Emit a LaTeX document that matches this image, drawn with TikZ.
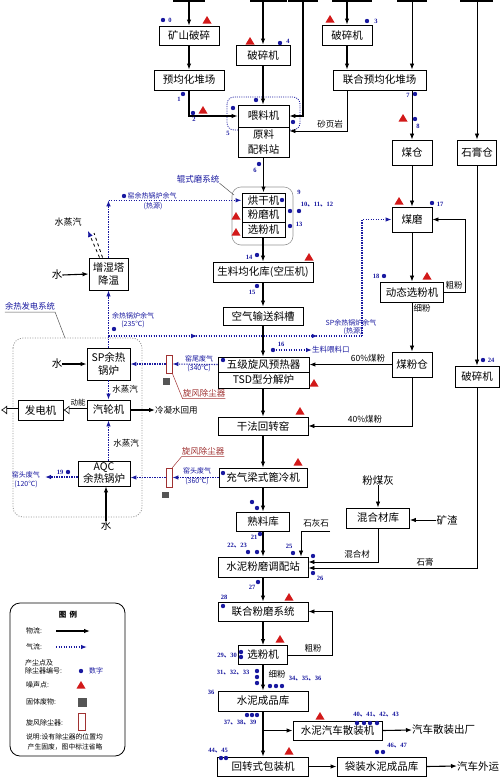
\documentclass[tikz,border=0pt]{standalone}
\usepackage{fontspec}
\setmainfont{Liberation Serif}
\newfontfamily\cjk{Noto Sans CJK SC}
\usetikzlibrary{arrows.meta,calc}
\definecolor{fblue}{RGB}{25,25,160}
\definecolor{fred}{RGB}{210,25,25}
\definecolor{fbrown}{RGB}{160,50,50}
\definecolor{fgray}{RGB}{85,85,85}
\definecolor{ggray}{RGB}{150,150,150}
\newcommand\dn{{\cjk 、}}
\tikzset{
 box/.style={draw, line width=0.9pt, fill=white, inner sep=0pt, align=center, font=\cjk\fontsize{10.5}{12.5}\selectfont},
 sz/.style 2 args={minimum width=#1, minimum height=#2},
 ahead/.style={-{Latex[length=6pt,width=4.5pt]}},
 flow/.style={line width=1.1pt, ahead},
 tflow/.style={line width=0.8pt, ahead},
 gasl/.style={fblue, line width=1.1pt, dash pattern=on 1.2pt off 1.3pt},
 gas/.style={gasl, ahead},
 hollow/.style={double=white, double distance=3pt, line width=0.6pt, -{Latex[open,length=6pt,width=9pt]}},
 lab/.style={inner sep=0pt, align=center, font=\cjk\fontsize{8.5}{9}\selectfont},
 big/.style={inner sep=0pt, font=\cjk\fontsize{10.5}{12}\selectfont},
 blab/.style={inner sep=0pt, text=fblue, align=center, font=\cjk\fontsize{7}{8}\selectfont},
 rlab/.style={inner sep=0pt, text=fbrown, font=\cjk\fontsize{8.5}{9}\selectfont},
 num/.style={inner sep=0pt, text=fblue, font=\rmfamily\bfseries\fontsize{6.5}{7}\selectfont},
 lgd/.style={inner sep=0pt, align=left, font=\cjk\fontsize{7}{8.5}\selectfont},
 coll/.style={draw=fbrown, line width=0.7pt, fill=white, inner sep=0pt, minimum width=6, minimum height=18},
}
\begin{document}
\begin{tikzpicture}[x=1pt,y=-1pt]
\useasboundingbox (0,0) rectangle (500,777);
\fill[white] (0,0) rectangle (500,777);

% group outlines
\draw[fblue, line width=0.8pt, dash pattern=on 1pt off 1.2pt, rounded corners=7pt] (227,97) rectangle (300,130);
\draw[ggray, line width=0.6pt, rounded corners=9pt] (232,187) rectangle (293,245);
\draw[ggray, line width=0.8pt, dash pattern=on 1pt off 1.5pt, rounded corners=10pt] (13,338) rectangle (142,517);
\draw[line width=0.8pt, rounded corners=10pt] (10,603) rectangle (125,756);

% cut-off boxes at the top
\foreach \a/\b in {173/205,250/287,288/318,332/372,397/427,460/493} \draw[line width=1.2pt] (\a,1) -- (\b,1);
\coordinate (t1) at (189,1);
\coordinate (t2) at (263,1);
\coordinate (t3) at (303,1);
\coordinate (t4) at (347,1);
\coordinate (t5) at (412,1);
\coordinate (t6) at (477,1);

% boxes
\node[box, sz={60}{19}] (ks) at (189,35.5) {矿山破碎};
\node[box, sz={70}{20}] (yj) at (189,80) {预均化堆场};
\node[box, sz={54}{20}] (ps4) at (263,55) {破碎机};
\node[box, sz={50}{20}] (ps3) at (347,35) {破碎机};
\node[box, sz={93}{20}] (lh) at (379.5,80) {联合预均化堆场};
\node[box, sz={51}{22}] (wl) at (263.5,116) {喂料机};
\node[box, sz={51}{30}, font=\cjk\fontsize{10.5}{14}\selectfont] (pl) at (263.5,142) {原料\\配料站};
\node[box, sz={40}{25}] (mc) at (412,152.5) {煤仓};
\node[box, sz={39}{25}] (sg) at (477,152.5) {石膏仓};
\node[box, sz={43}{14.7}] (hg) at (263.5,200.3) {烘干机};
\node[box, sz={43}{14.7}] (fm) at (263.5,215) {粉磨机};
\node[box, sz={43}{14.7}] (xf) at (263.5,229.7) {选粉机};
\node[box, sz={40}{25}] (mm) at (412,219.5) {煤磨};
\node[box, sz={39}{32}] (zs) at (108.5,274) {增湿塔\\降温};
\node[box, sz={100}{20}] (sl) at (263,272) {生料均化库(空压机)};
\node[box, sz={63}{20}] (dt) at (412,292) {动态选粉机};
\node[box, sz={80}{18}] (kq) at (263,316) {空气输送斜槽};
\node[box, sz={43}{32}] (sp) at (108.5,364) {SP余热\\锅炉};
\node[box, sz={91}{15}] (wj) at (263.5,364.5) {五级旋风预热器};
\node[box, sz={91}{16}] (tsd) at (263.5,380) {TSD型分解炉};
\node[box, sz={40}{25}] (mf) at (412,364.5) {煤粉仓};
\node[box, sz={44}{21}] (ps24) at (477,376.5) {破碎机};
\node[box, sz={45}{20}] (fd) at (40.5,410) {发电机};
\node[box, sz={43}{20}] (ql) at (108.5,410) {汽轮机};
\node[box, sz={90}{18}] (gf) at (263,426) {干法回转窑};
\node[box, sz={52}{25}, font=\cjk\fontsize{10.5}{12}\selectfont] (aqc) at (104,473.5) {AQC\\余热锅炉};
\node[box, sz={88}{19}] (bl) at (263,477.5) {充气梁式篦冷机};
\node[box, sz={53}{19}] (sl2) at (263,521.5) {熟料库};
\node[box, sz={63}{20}] (hh) at (378,518) {混合材库};
\node[box, sz={90}{20}] (tp) at (263,567) {水泥粉磨调配站};
\node[box, sz={90}{19}] (lf) at (263,611.5) {联合粉磨系统};
\node[box, sz={49}{19}] (xf2) at (263,655) {选粉机};
\node[box, sz={90}{20}] (cp) at (263,701) {水泥成品库};
\node[box, sz={89}{19}] (sz) at (337.5,730.5) {水泥汽车散装机};
\node[box, sz={91}{19}] (hz) at (263,766.5) {回转式包装机};
\node[box, sz={89}{19}] (dz) at (381.5,766.5) {袋装水泥成品库};

% collectors
\node[coll] (c1) at (169,364) {};
\node[coll, minimum height=19] (c2) at (169,477.5) {};
\fill[fgray] (163,378) rectangle (170,384.5);
\fill[fgray] (162,491.5) rectangle (168.5,497.5);

% free text
\node[big] (fmh) at (378,480) {粉煤灰};
\node[big] (kz) at (447,520) {矿渣};
\node[big, anchor=west] (qcss) at (412,730) {汽车散装出厂};
\node[big, anchor=west] (qcwy) at (457,766) {汽车外运};
\node[lab] (syy) at (330,124) {砂页岩};
\node[lab] (cf1l) at (454,285) {粗粉};
\node[lab] (xf1l) at (422,308) {细粉};
\node[lab] (m60) at (368,358) {60\%煤粉};
\node[lab] (m40) at (365,419) {40\%煤粉};
\node[lab] (shs) at (316,523) {石灰石};
\node[lab] (hhc) at (357,554) {混合材};
\node[lab] (sgl) at (425,562) {石膏};
\node[lab] (cf2l) at (313,648) {粗粉};
\node[lab] (xf3l) at (277,674) {细粉};
\node[lab, font=\cjk\fontsize{9}{10}\selectfont] (zq1) at (68,222) {水蒸汽};
\node[lab] (zq2) at (125,389) {水蒸汽};
\node[lab] (zq3) at (126,443) {水蒸汽};
\node[lab, font=\cjk\fontsize{7.5}{8}\selectfont] (dn) at (78,403) {动能};
\node[lab, anchor=west] (lns) at (155,410) {冷凝水回用};
\node[big] (w1) at (57,275) {水};
\node[big] (w2) at (57,364) {水};
\node[big] (w3) at (106,526) {水};

% blue labels
\node[blab, font=\cjk\fontsize{8.5}{9}\selectfont] (rg) at (198,179) {辊式磨系统};
\node[blab, font=\cjk\fontsize{8.3}{9}\selectfont] (yrfd) at (30,306) {余热发电系统};
\node[blab] (yq1) at (152,196) {窑余热锅炉余气};
\node[blab] (yq1b) at (153,206) {(热源)};
\node[blab] (yq2) at (133,316) {余热锅炉余气};
\node[blab] (yq2b) at (133,324) {(235℃)};
\node[blab] (yq3) at (351,323) {SP余热锅炉余气};
\node[blab] (yq3b) at (353,331) {(热源)};
\node[blab] (yw) at (199,359) {窑尾废气};
\node[blab] (ywb) at (199,368) {(340℃)};
\node[blab] (yt) at (197,471) {窑头废气};
\node[blab] (ytb) at (197,481) {(360℃)};
\node[blab] (yt2) at (26,475) {窑头废气};
\node[blab] (yt2b) at (26,484) {(120℃)};
\node[blab, font=\cjk\fontsize{7.5}{8}\selectfont, anchor=west] (sllk) at (312,350) {生料喂料口};
\node[rlab] (xfl1) at (204,393) {旋风除尘器};
\node[rlab] (xfl2) at (203,451) {旋风除尘器};

% callouts
\draw[fgray, line width=0.5pt] (rg.south east) -- (234,195);
\draw[fgray, line width=0.5pt] ([yshift=-2pt]yrfd.south west) -- ([yshift=-2pt]yrfd.south east) -- (65,338);
\draw[fbrown, line width=0.5pt] (c1.south east) -- ([yshift=-1.5pt]xfl1.south west) -- ([yshift=-1.5pt]xfl1.south east);
\draw[fbrown, line width=0.5pt] (c2.north east) -- ([yshift=-1.5pt]xfl2.south west) -- ([yshift=-1.5pt]xfl2.south east);

% material flow
\draw[flow] (t1) -- (ks.north);
\draw[flow] (ks.south) -- (yj.north);
\draw[flow] (yj.south) |- (wl.west);
\draw[flow] (t2) -- (ps4.north);
\draw[flow] (ps4.south) -- (ps4.south |- wl.north);
\draw[flow] (t3) |- (wl.east);
\draw[flow] (t4) -- (ps3.north);
\draw[flow] (ps3.south) -- (ps3.south |- lh.north);
\draw[tflow] (t5) -- (t5 |- lh.north);
\draw[tflow] (lh.south -| ps3.south) |- ([yshift=11pt]pl.east);
\draw[tflow] (lh.south -| mc.north) -- (mc.north);
\draw[tflow] (t6) -- (sg.north);
\draw[flow] (pl.south) -- (pl.south |- hg.north);
\draw[flow] (xf.south -| sl.north) -- (sl.north);
\draw[flow] (sl.south) -- (kq.north);
\draw[flow] (kq.south) -- (kq.south |- wj.north);
\draw[flow] (tsd.south -| gf.north) -- (gf.north);
\draw[flow] (gf.south) -- (bl.north);
\draw[flow] (bl.south) -- (sl2.north);
\draw[flow] (sl2.south) -- (tp.north);
\draw[flow] (tp.south) -- (lf.north);
\draw[flow] (lf.south) -- (xf2.north);
\draw[flow] (xf2.south) -- (cp.north);
\draw[flow] (cp.south) -- (hz.north);
\draw[flow] (cp.south |- sz.west) -- (sz.west);
\draw[flow] (sz.east) -- (qcss.west);
\draw[flow] (hz.east) -- (dz.west);
\draw[flow] (dz.east) -- (qcwy.west);
% coal line
\draw[tflow] (mc.south) -- (mm.north);
\draw[tflow] (mm.south) -- (dt.north);
\draw[tflow] (dt.south) -- (mf.north);
\draw[flow] (mf.west) -- (wj.east);
\draw[tflow] (mf.south) |- (gf.east);
\coordinate (cfa) at (465,292);
\draw[tflow] (dt.east) -- (cfa) |- (mm.east);
% gypsum, admixture, limestone
\draw[tflow] (sg.south) -- (ps24.north);
\coordinate (sgc) at (477,568);
\draw[tflow] (ps24.south) -- (sgc) -- (sgc -| tp.east);
\coordinate (hhk) at (378,562);
\draw[tflow] (hh.south) -- (hhk) -- (hhk -| tp.east);
\draw[tflow] (fmh.south) -- (hh.north);
\draw[tflow] (kz.west) -- (kz.west -| hh.east);
\coordinate (lsA) at (330,531);
\coordinate (lsB) at (301,531);
\draw[tflow] (lsA) -- (lsB) -- (lsB |- tp.north);
\coordinate (cfb) at (332,655);
\draw[tflow] (xf2.east) -- (cfb) |- (lf.east);
% water
\draw[flow] (w1.east) -- (zs.west);
\draw[flow] (w2.east) -- (sp.west);
\draw[flow] (w3.north) -- (w3.north |- aqc.south);
\draw[flow] (ql.east) -- (lns.west);
\draw[hollow] (ql.west) -- (fd.east);
\coordinate (fo) at (1,410);
\draw[hollow] (fd.west) -- (fo);
% steam from humidifier
\coordinate (st) at (88,231);
\draw[line width=0.8pt, dashed, -{Latex[length=6pt,width=5pt,color=fblue]}] ([xshift=11pt]zs.north west) -- (st);
\draw[line width=0.8pt, dashed] ([xshift=14pt]zs.north west) -- ([xshift=6pt,yshift=-2pt]st);

% gas flow
\coordinate (J1) at (108.5,336);
\coordinate (J2) at (362,336);
\draw[gasl] (sp.north) -- (J1);
\draw[gas] (J1) -- (zs.south);
\draw[gasl] (J1) -- (J2);
\draw[gas] (J1) -- ($(J1)!0.35!(J2)$);
\draw[gas] (J1) -- ($(J1)!0.826!(J2)$);
\draw[gas] (J2) |- (mm.west);
\coordinate (J4) at (108.5,200.3);
\draw[gas] (zs.north) -- (J4);
\draw[gas] (J4) -- (hg.west);
\draw[gas] (wj.west) -- (c1.east);
\draw[gas] (c1.west) -- (sp.east);
\draw[gas] (bl.west) -- (c2.east);
\draw[gas] (c2.west) -- (c2.west -| aqc.east);
\draw[gas] (sp.south) -- (ql.north);
\draw[gas] (aqc.north -| ql.south) -- (ql.south);
\coordinate (g1) at (45,477);
\draw[gas] (g1 -| aqc.west) -- (g1);
\coordinate (h1) at (276,350);
\draw[gas] (h1) -- (sllk.west);

% legend
\node[lgd, font=\cjk\bfseries\fontsize{7.5}{8}\selectfont] (lgt) at (68,615) {图\ \ 例};
\node[lgd, anchor=west] (lg1) at (26,631) {物流:};
\node[lgd, anchor=west] (lg2) at (26,647) {气流:};
\node[lgd, anchor=west] (lg3) at (25,667) {产尘点及\\除尘器编号:};
\node[lgd, anchor=west] (lg4) at (26,685) {噪声点:};
\node[lgd, anchor=west] (lg5) at (26,702) {固体废物:};
\node[lgd, anchor=west] (lg6) at (26,723) {旋风除尘器:};
\node[lgd, anchor=west, font=\cjk\fontsize{6.8}{10}\selectfont] (lg7) at (26,742) {说明:设有除尘器的位置均\\\ 产生固废，图中标注省略};
\node[lgd, text=fblue] (lg8) at (96,671) {数字};
\coordinate (la1) at (56,631);
\coordinate (la2) at (90,631);
\draw[flow] (la1) -- (la2);
\coordinate (lb1) at (56,647);
\coordinate (lb2) at (87,647);
\draw[gas] (lb1) -- (lb2);
\fill[fgray] (78,698) rectangle (87,707);
\node[coll, minimum width=7, minimum height=17] (lgc) at (81.5,721.5) {};

% blue number labels
\node[num] (n0) at (170,20) {0};
\node[num] (n1) at (179,99) {1};
\node[num] (n2) at (194,119) {2};
\node[num] (n3) at (376,21) {3};
\node[num] (n4) at (288,41) {4};
\node[num] (n5) at (228,133) {5};
\node[num] (n6) at (255,170) {6};
\node[num] (n7) at (408,95) {7};
\node[num] (n8) at (418,126) {8};
\node[num] (n9) at (299,192) {9};
\node[num] (n10) at (317,205) {10\dn 11\dn 12};
\node[num] (n13) at (299,224) {13};
\node[num] (n14) at (249,257) {14};
\node[num] (n15) at (252,292) {15};
\node[num] (n16) at (281,344) {16};
\node[num] (n17) at (440,204) {17};
\node[num] (n18) at (376,276) {18};
\node[num] (n19) at (60,472) {19};
\node[num] (n21) at (254,537) {21};
\node[num] (n22) at (237,546) {22\dn 23};
\node[num] (n24) at (491,360) {24};
\node[num] (n25) at (289,546) {25};
\node[num] (n26) at (320,578) {26};
\node[num] (n27) at (252,587) {27};
\node[num] (n28) at (224,597) {28};
\node[num] (n29) at (227,656) {29\dn 30};
\node[num] (n31) at (233,673) {31\dn 32\dn 33};
\node[num] (n34) at (305,679) {34\dn 35\dn 36};
\node[num] (n36) at (211,692) {36};
\node[num] (n37) at (240,723) {37\dn 38\dn 39};
\node[num] (n40) at (376,715) {40\dn 41\dn 42\dn 43};
\node[num] (n44) at (218,751) {44\dn 45};
\node[num] (n46) at (397,746) {46\dn 47};

% dust points
\foreach \x/\y in {163/20, 183/94, 193/113, 367/21, 280/43, 256/100, 233/108, 293/122, 259/164, 415/94, 415/119, 282/200, 290/211, 299/211, 290/226, 257/255, 257/286, 273/350, 223/360, 432/203, 384/276, 68/472, 223/473, 252/502, 257/508, 260/534, 248/552, 257/552, 483/360, 293/553, 313/556, 313/573, 258/582, 223/606, 241/652, 241/657, 257/671, 257/677, 257/683, 270/686, 276/686, 282/686, 247/715, 252/715, 257/715, 357/723, 364/723, 370/723, 377/723, 221/758, 226/758, 377/752, 383/752, 114/329, 124/196, 81/671}
  \fill[fblue] (\x,\y) circle (2.2pt);
% noise points
\foreach \x/\y in {207/20, 250/41, 330/19, 203/110, 403/118, 236/216, 236/232, 309/257, 399/201, 427/276, 314/383, 300/411, 298/462, 289/597, 280/639, 320/716, 289/751, 81/685}
  \fill[fred, shift={(\x,\y)}] (-4.5,3.5) -- (4.5,3.5) -- (0,-4) -- cycle;
\end{tikzpicture}
\end{document}
